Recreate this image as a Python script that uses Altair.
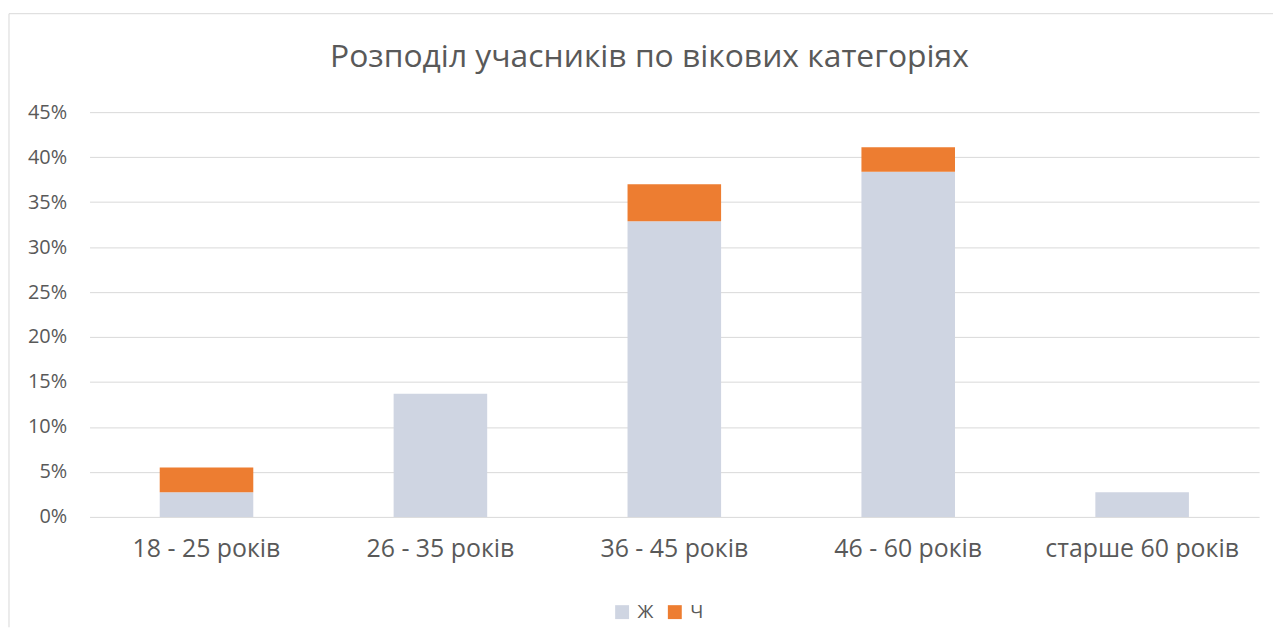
import altair as alt
import pandas as pd

chart_title = "Розподіл учасників по вікових категоріях"
categories = ["18 - 25 років", "26 - 35 років", "36 - 45 років", "46 - 60 років", "старше 60 років"]
series_names = ["Ж", "Ч"]
zh_values = [0.0274, 0.1370, 0.3288, 0.3836, 0.0274]
ch_values = [0.0274, 0.0, 0.0411, 0.0274, 0.0]
y_ticks = [0, 0.05, 0.10, 0.15, 0.20, 0.25, 0.30, 0.35, 0.40, 0.45]

rows = []
for i, c in enumerate(categories):
    rows.append({"cat": c, "series": "Ж", "ord": 0, "value": zh_values[i]})
    rows.append({"cat": c, "series": "Ч", "ord": 1, "value": ch_values[i]})
df = pd.DataFrame(rows)

TEXT = "#595959"
GRID = "#d9d9d9"
FONT = "Open Sans"

W, H = 1176, 407

bars = alt.Chart(df).mark_bar().encode(
    x=alt.X("cat:N", sort=categories,
            scale=alt.Scale(paddingInner=0.6, paddingOuter=0.3),
            axis=alt.Axis(title=None, labelAngle=0, labelFontSize=25, labelColor=TEXT,
                          labelFont=FONT, labelPadding=20, labelLimit=400,
                          domain=False, ticks=False, grid=False)),
    y=alt.Y("value:Q", stack="zero",
            scale=alt.Scale(domain=[0, 0.45], nice=False),
            axis=alt.Axis(title=None, format=".0%", values=y_ticks, labelFontSize=20,
                          labelColor=TEXT, labelFont=FONT, labelPadding=23,
                          domain=False, ticks=False, grid=True, gridColor=GRID,
                          gridWidth=1)),
    color=alt.Color("series:N",
                    scale=alt.Scale(domain=series_names, range=["#cfd5e2", "#ED7D31"]),
                    legend=alt.Legend(title=None, orient="none", direction="horizontal",
                                      legendX=526, legendY=493, symbolType="square",
                                      symbolSize=196, symbolStrokeWidth=0,
                                      labelFontSize=19, labelColor=TEXT, labelFont=FONT,
                                      columnPadding=12, labelOffset=6, padding=0)),
    order=alt.Order("ord:Q", sort="ascending"),
)

frame = alt.Data(values=[{"k": 1}])
left_edge = alt.Chart(frame).mark_rule(color=GRID, strokeWidth=1).encode(
    x=alt.value(-81), y=alt.value(-99), y2=alt.value(518))
top_edge = alt.Chart(frame).mark_rule(color=GRID, strokeWidth=1).encode(
    x=alt.value(-81), x2=alt.value(1190), y=alt.value(-99))
title_text = alt.Chart(frame).mark_text(
    fontSize=32, font=FONT, color=TEXT, align="center", baseline="alphabetic"
).encode(x=alt.value(563), y=alt.value(-45), text=alt.value(chart_title))

chart = alt.layer(bars, left_edge, top_edge, title_text).properties(
    width=W, height=H,
    padding={"left": 0, "top": 3, "right": 0, "bottom": 0},
    background="white",
).configure_view(stroke=None)

chart.save("out.html", embed_options={"renderer": "svg", "actions": False})
